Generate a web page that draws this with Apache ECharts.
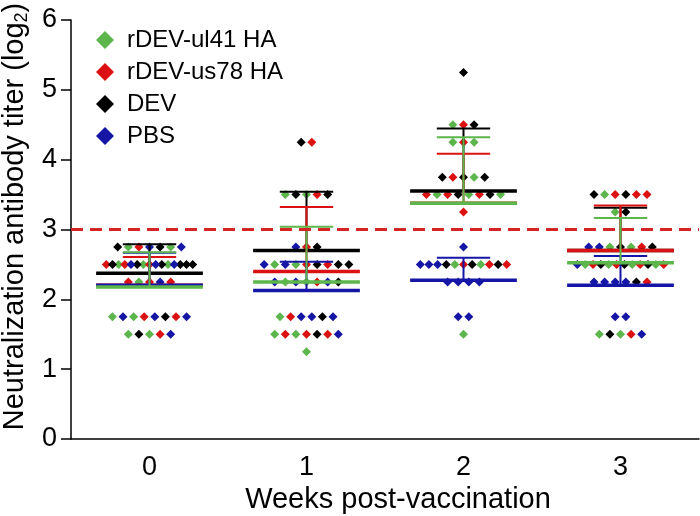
<!DOCTYPE html>
<html><head><meta charset="utf-8">
<script src="https://cdn.jsdelivr.net/npm/echarts@6/dist/echarts.min.js"></script>
<style>html,body{margin:0;padding:0;background:#fff}#c{width:700px;height:516px}</style>
</head><body><div id="c"></div>
<script>
// ---- data ----
const weeks = ['0', '1', '2', '3'];
const seriesNames = ['rDEV-ul41 HA', 'rDEV-us78 HA', 'DEV', 'PBS'];
const ul41 = [
  [2.75, 2.75, 2.5, 2.5, 2.5, 2.25, 1.75, 1.75, 1.5, 1.5],
  [3.5, 3.5, 2.5, 2.5, 2.25, 2.25, 1.75, 1.5, 1.5, 1.25],
  [4.5, 4.25, 4.25, 3.75, 3.5, 3.5, 3.5, 2.5, 2.5, 1.5],
  [3.5, 3.25, 2.75, 2.75, 2.5, 2.5, 2.5, 2.5, 1.5, 1.5]
];
const us78 = [
  [2.75, 2.5, 2.5, 2.5, 2.25, 2.25, 2.25, 1.75, 1.75, 1.5],
  [4.25, 3.5, 2.75, 2.5, 2.5, 2.25, 1.75, 1.5, 1.5, 1.5],
  [4.5, 4.25, 3.75, 3.5, 3.5, 3.5, 3.25, 2.5, 2.5, 2.5],
  [3.5, 3.5, 3.5, 2.75, 2.5, 2.5, 2.5, 2.5, 2.25, 1.5]
];
const dev = [
  [2.75, 2.75, 2.5, 2.5, 2.5, 2.5, 2.5, 2.5, 1.75, 1.5],
  [4.25, 3.5, 3.5, 2.75, 2.5, 2.5, 2.5, 2.25, 1.75, 1.5],
  [5.25, 4.5, 3.75, 3.75, 3.75, 3.5, 3.5, 2.5, 2.5, 2.5],
  [3.5, 3.5, 3.25, 2.75, 2.75, 2.5, 2.5, 2.5, 2.25, 1.5]
];
const pbs = [
  [2.75, 2.75, 2.5, 2.5, 2.5, 2.25, 1.75, 1.75, 1.75, 1.5],
  [2.75, 2.5, 2.5, 2.25, 2.25, 2.25, 1.75, 1.75, 1.75, 1.5],
  [2.75, 2.5, 2.5, 2.5, 2.25, 2.25, 2.25, 2.25, 1.75, 1.75],
  [2.75, 2.75, 2.5, 2.25, 2.25, 2.25, 2.25, 1.75, 1.75, 1.5]
];
const threshold = 3;
const yTicks = [0, 1, 2, 3, 4, 5, 6];

// ---- styling / layout ----
const colors = ['#5db64c', '#dc1111', '#000000', '#1515a6'];
const FONT = 'Liberation Sans, Arial, Helvetica, sans-serif';
const groups = [ul41, us78, dev, pbs];
const STEP = 0.0675, MAXW = 0.55;

// scatter layout: points with equal values in a week are spread side by side
const pts = groups.map(() => []);
weeks.forEach((w, wi) => {
  const rows = {};
  const maxLen = Math.max(...groups.map(g => g[wi].length));
  const order = [2, 0, 1, 3];
  for (let j = 0; j < maxLen; j++) {
    order.forEach(si => {
      const v = groups[si][wi][j];
      if (v === undefined) return;
      (rows[v] = rows[v] || []).push(si);
    });
  }
  Object.keys(rows).forEach(v => {
    const list = rows[v], n = list.length;
    const s = n > 1 ? Math.min(STEP, MAXW / (n - 1)) : 0;
    list.forEach((si, i) => pts[si].push([wi + (i - (n - 1) / 2) * s, +v]));
  });
});

function stats(arr) {
  const n = arr.length;
  const m = arr.reduce((a, b) => a + b, 0) / n;
  const sd = Math.sqrt(arr.reduce((a, b) => a + (b - m) * (b - m), 0) / (n - 1));
  return [m, sd];
}

function errSeries(si) {
  const col = colors[si];
  return {
    type: 'custom', name: 'err' + si, xAxisIndex: 1, z: 3, silent: true,
    data: weeks.map((w, wi) => { const s = stats(groups[si][wi]); return [wi, s[0], s[1]]; }),
    renderItem: (params, api) => {
      const x = api.value(0), m = api.value(1), sd = api.value(2);
      const c = api.coord([x, m]);
      const t = api.coord([x, m + sd]);
      const unit = api.size([1, 0])[0];
      const half = 0.34 * unit, cap = 0.17 * unit;
      return { type: 'group', children: [
        { type: 'line', shape: { x1: c[0], y1: c[1], x2: t[0], y2: t[1] }, style: { stroke: col, lineWidth: 2 } },
        { type: 'line', shape: { x1: t[0] - cap, y1: t[1], x2: t[0] + cap, y2: t[1] }, style: { stroke: col, lineWidth: 2 } },
        { type: 'line', shape: { x1: c[0] - half, y1: c[1], x2: c[0] + half, y2: c[1] }, style: { stroke: col, lineWidth: 3.5 } }
      ]};
    }
  };
}

const chart = echarts.init(document.getElementById('c'), null, { renderer: 'canvas' });
const series = [];
seriesNames.forEach((name, si) => {
  series.push({
    type: 'scatter', name: name, xAxisIndex: 1, symbol: 'diamond', symbolSize: 9,
    itemStyle: { color: colors[si], opacity: 1 }, data: pts[si], z: 2, silent: true
  });
});
[2, 1, 3, 0].forEach(si => series.push(errSeries(si)));
series.push({
  type: 'line', name: 'threshold', xAxisIndex: 1, data: [], z: 5,
  markLine: {
    silent: true, symbol: 'none', label: { show: false },
    lineStyle: { color: '#d42424', type: [12, 7], width: 3 },
    data: [{ yAxis: threshold }]
  }
});

chart.setOption({
  animation: false,
  backgroundColor: '#fff',
  textStyle: { fontFamily: FONT },
  grid: { left: 71, right: 1, top: 20, bottom: 77, containLabel: false, outerBoundsMode: 'none' },
  legend: {
    orient: 'vertical', left: 96, top: 28, padding: 0, itemWidth: 18, itemHeight: 18, itemGap: 8,
    icon: 'diamond',
    data: seriesNames.map((n, i) => ({ name: n, itemStyle: { color: colors[i], opacity: 1 } })),
    textStyle: { fontSize: 24, lineHeight: 24, color: '#000', fontFamily: FONT, padding: [0, 0, 0, 8] },
    selectedMode: false
  },
  xAxis: [
    {
      type: 'category', data: weeks, boundaryGap: true,
      axisLine: { onZero: false, lineStyle: { color: '#000', width: 1.5 } },
      axisTick: { alignWithLabel: true, length: 10, lineStyle: { color: '#000', width: 1.5 } },
      axisLabel: { fontSize: 27, color: '#000', margin: 15, fontFamily: FONT },
      name: 'Weeks post-vaccination', nameLocation: 'middle', nameGap: 41,
      nameTextStyle: { fontSize: 29, color: '#000', fontFamily: FONT, padding: [0, 0, 0, 26] }
    },
    { type: 'value', min: -0.5, max: 3.5, show: false }
  ],
  yAxis: {
    type: 'value', min: yTicks[0], max: yTicks[yTicks.length - 1], interval: 1,
    splitLine: { show: false },
    axisLine: { show: true, onZero: false, lineStyle: { color: '#000', width: 1.5 } },
    axisTick: { show: true, length: 10, lineStyle: { color: '#000', width: 1.5 } },
    axisLabel: { fontSize: 27, color: '#000', margin: 14, fontFamily: FONT },
    name: '{t|Neutralization antibody titer (log}{s|2}{t|)}',
    nameLocation: 'middle', nameGap: 39, nameRotate: 90,
    nameTextStyle: {
      color: '#000', fontFamily: FONT, padding: [0, 0, 0, 26],
      rich: {
        t: { fontSize: 29, color: '#000', fontFamily: FONT, lineHeight: 33 },
        s: { fontSize: 18, color: '#000', fontFamily: FONT, lineHeight: 33, verticalAlign: 'bottom' }
      }
    }
  },
  series: series
});
</script></body></html>
